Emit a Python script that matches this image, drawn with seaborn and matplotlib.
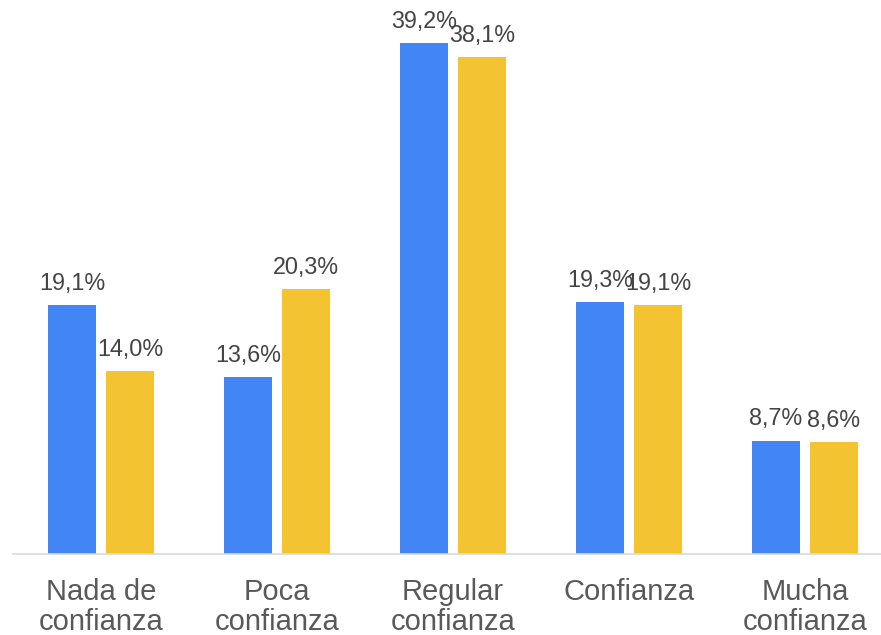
import matplotlib
matplotlib.use("Agg")
import matplotlib.pyplot as plt
import seaborn as sns
import pandas as pd

categories = ["Nada de\nconfianza", "Poca\nconfianza", "Regular\nconfianza", "Confianza", "Mucha\nconfianza"]
series_names = ["Serie 1", "Serie 2"]
values_1 = [19.1, 13.6, 39.2, 19.3, 8.7]
values_2 = [14.0, 20.3, 38.1, 19.1, 8.6]
colors = ["#4285F4", "#F3C332"]

df = pd.DataFrame({
    "categoria": categories * 2,
    "serie": [series_names[0]] * len(categories) + [series_names[1]] * len(categories),
    "valor": values_1 + values_2,
})

sns.set_theme(style="white")
plt.rcParams["font.family"] = ["Liberation Sans", "DejaVu Sans"]

W, H = 881, 635
fig = plt.figure(figsize=(W / 100, H / 100), dpi=100)
ax = fig.add_axes([13 / W, 81 / H, 868 / W, 554 / H])

sns.barplot(data=df, x="categoria", y="valor", hue="serie", order=categories,
            hue_order=series_names, palette=colors, width=0.66, gap=0.17,
            saturation=1, linewidth=0, legend=False, ax=ax)

ax.set_xlim(-0.5, -0.5 + 868 / 176)
ax.set_ylim(0, 42.49)

for cont, vals in zip(ax.containers, [values_1, values_2]):
    ax.bar_label(cont, labels=[f"{v:.1f}%".replace(".", ",") for v in vals],
                 padding=7.3, fontsize=16.8, color="#444444")

for s in ["top", "right", "left"]:
    ax.spines[s].set_visible(False)
ax.spines["bottom"].set_color("#d9d9d9")
ax.spines["bottom"].set_linewidth(1.2)
ax.set_yticks([])
ax.set_xlabel("")
ax.set_ylabel("")
ax.tick_params(axis="x", length=0, pad=17, labelsize=21, labelcolor="#595959")
for t in ax.get_xticklabels():
    t.set_linespacing(1.1)

fig.savefig("out.png", dpi=100)
